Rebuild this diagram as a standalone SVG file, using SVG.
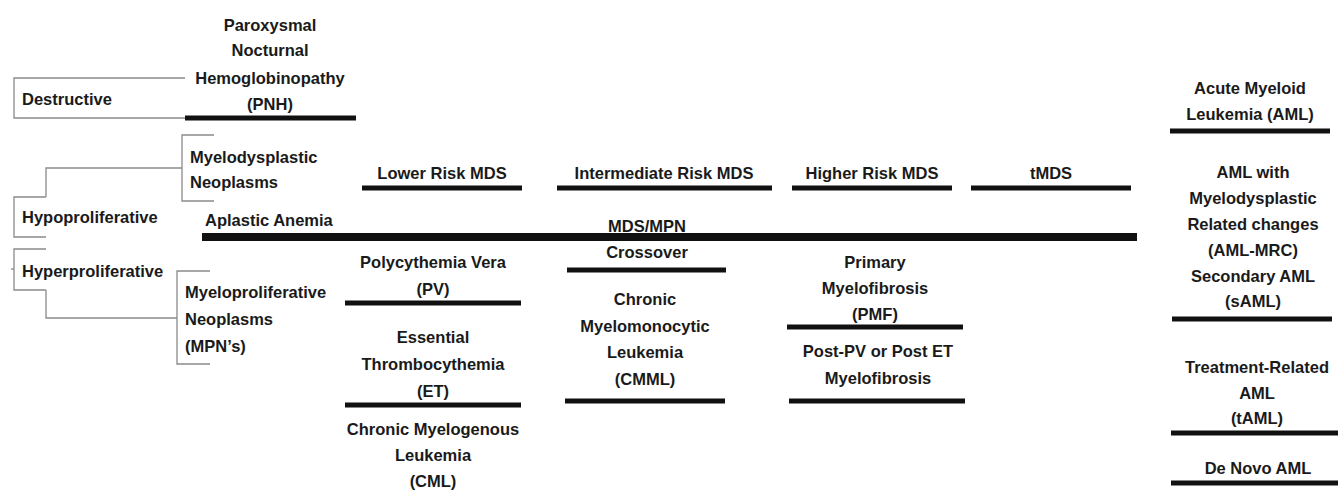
<svg xmlns="http://www.w3.org/2000/svg" width="1338" height="491" viewBox="0 0 1338 491">
<style>
text { font-family: "Liberation Sans", Arial, sans-serif; font-weight: bold; font-size: 16.5px; fill: #1a1a1a; }
.c { text-anchor: middle; }
.bar { stroke: #111; stroke-width: 5; }
.main { stroke: #111; stroke-width: 8; }
.br { stroke: #8a8a8a; stroke-width: 1.3; fill: none; }
</style>
<rect width="1338" height="491" fill="#fff"/>
<g id="connectors">
  <path class="br" d="M185,78 H14 V118 H185"/>
  <path class="br" d="M214,135 H182 V201 H214"/>
  <path class="br" d="M182,168 H46 V197"/>
  <path class="br" d="M46,197 H14 V237 H46"/>
  <path class="br" d="M46,249 H14 V290 H46"/>
  <path class="br" d="M11,269 H14"/>
  <path class="br" d="M46,290 V318 H177"/>
  <path class="br" d="M210,271 H177 V364 H210"/>
</g>
<g id="destructive"><text x="22" y="105">Destructive</text></g>
<g id="pnh">
  <text class="c" x="270" y="31">Paroxysmal</text>
  <text class="c" x="270" y="56">Nocturnal</text>
  <text class="c" x="270" y="84">Hemoglobinopathy</text>
  <text class="c" x="270" y="110">(PNH)</text>
  <line class="bar" x1="185" y1="118" x2="356" y2="118"/>
</g>
<g id="hypoproliferative"><text x="22" y="223">Hypoproliferative</text></g>
<g id="hyperproliferative"><text x="22" y="277">Hyperproliferative</text></g>
<g id="mds">
  <text x="190" y="163">Myelodysplastic</text>
  <text x="190" y="188">Neoplasms</text>
</g>
<g id="mpn">
  <text x="185" y="298">Myeloproliferative</text>
  <text x="185" y="325">Neoplasms</text>
  <text x="185" y="352">(MPN’s)</text>
</g>
<g id="aplastic">
  <text x="205" y="226">Aplastic Anemia</text>
  <line class="main" x1="202" y1="237" x2="1137" y2="237"/>
</g>
<g id="lower-risk">
  <text class="c" x="442" y="179">Lower Risk MDS</text>
  <line class="bar" x1="362" y1="188" x2="522" y2="188"/>
</g>
<g id="intermediate-risk">
  <text class="c" x="664" y="179">Intermediate Risk MDS</text>
  <line class="bar" x1="557" y1="188" x2="772" y2="188"/>
</g>
<g id="higher-risk">
  <text class="c" x="872" y="179">Higher Risk MDS</text>
  <line class="bar" x1="792" y1="188" x2="952" y2="188"/>
</g>
<g id="tmds">
  <text class="c" x="1051" y="179">tMDS</text>
  <line class="bar" x1="971" y1="188" x2="1131" y2="188"/>
</g>
<g id="mds-mpn">
  <text class="c" x="647" y="232">MDS/MPN</text>
  <text class="c" x="647" y="258">Crossover</text>
  <line class="bar" x1="567" y1="270" x2="726" y2="270"/>
</g>
<g id="pv">
  <text class="c" x="433" y="268">Polycythemia Vera</text>
  <text class="c" x="433" y="295">(PV)</text>
  <line class="bar" x1="345" y1="303" x2="521" y2="303"/>
</g>
<g id="et">
  <text class="c" x="433" y="343">Essential</text>
  <text class="c" x="433" y="370">Thrombocythemia</text>
  <text class="c" x="433" y="397">(ET)</text>
  <line class="bar" x1="345" y1="405" x2="521" y2="405"/>
</g>
<g id="cml">
  <text class="c" x="433" y="435">Chronic Myelogenous</text>
  <text class="c" x="433" y="461">Leukemia</text>
  <text class="c" x="433" y="487">(CML)</text>
</g>
<g id="cmml">
  <text class="c" x="645" y="305">Chronic</text>
  <text class="c" x="645" y="332">Myelomonocytic</text>
  <text class="c" x="645" y="358">Leukemia</text>
  <text class="c" x="645" y="385">(CMML)</text>
  <line class="bar" x1="565" y1="401" x2="725" y2="401"/>
</g>
<g id="pmf">
  <text class="c" x="875" y="268">Primary</text>
  <text class="c" x="875" y="294">Myelofibrosis</text>
  <text class="c" x="875" y="320">(PMF)</text>
  <line class="bar" x1="787" y1="327" x2="963" y2="327"/>
</g>
<g id="post-mf">
  <text class="c" x="878" y="357">Post-PV or Post ET</text>
  <text class="c" x="878" y="384">Myelofibrosis</text>
  <line class="bar" x1="789" y1="401" x2="965" y2="401"/>
</g>
<g id="aml">
  <text class="c" x="1250" y="94">Acute Myeloid</text>
  <text class="c" x="1250" y="120">Leukemia (AML)</text>
  <line class="bar" x1="1170" y1="131" x2="1330" y2="131"/>
</g>
<g id="aml-mrc">
  <text class="c" x="1253" y="178">AML with</text>
  <text class="c" x="1253" y="204">Myelodysplastic</text>
  <text class="c" x="1253" y="230">Related changes</text>
  <text class="c" x="1253" y="256">(AML-MRC)</text>
  <text class="c" x="1253" y="282">Secondary AML</text>
  <text class="c" x="1253" y="307">(sAML)</text>
  <line class="bar" x1="1172" y1="319" x2="1332" y2="319"/>
</g>
<g id="taml">
  <text class="c" x="1257" y="373">Treatment-Related</text>
  <text class="c" x="1257" y="399">AML</text>
  <text class="c" x="1257" y="424">(tAML)</text>
  <line class="bar" x1="1171" y1="433" x2="1338" y2="433"/>
</g>
<g id="de-novo">
  <text class="c" x="1258" y="474">De Novo AML</text>
  <line class="bar" x1="1171" y1="483" x2="1338" y2="483"/>
</g>
</svg>
